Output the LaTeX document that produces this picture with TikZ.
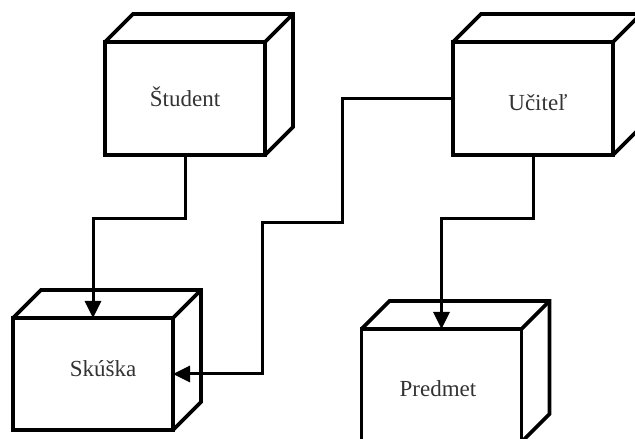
\documentclass[tikz,border=0pt]{standalone}
\usepackage{fontspec}
\setmainfont{Liberation Serif}
\usetikzlibrary{arrows.meta}
\begin{document}
\begin{tikzpicture}[x=1pt,y=1pt,
  face/.style={draw=black, line width=3.6pt, fill=white, minimum width=160pt, minimum height=113pt, inner sep=0pt, outer sep=0pt},
  edge3d/.style={draw=black, line width=3.6pt, line join=miter},
  conn/.style={draw=black, line width=3pt, line join=miter, -{Triangle[length=17pt,width=16pt]}},
  lbl/.style={anchor=base, inner sep=0pt, text=black!80, font=\fontsize{23}{27}\selectfont}
]
\clip (0,0) rectangle (635,439);
\fill[white] (0,0) rectangle (635,439);

% front faces of the four boxes
\node[face] (stud) at (185,340.5) {};
\node[face] (uc)   at (533,340.5) {};
\node[face, minimum height=112pt] (sk) at (93,65) {};
\node[face] (pr)   at (441.5,53.5) {};

% top and side faces (depth 28pt up-right)
\foreach \b in {stud,uc,sk,pr}{
  \draw[edge3d] (\b.north west) -- ++(28,28) -| ([xshift=28pt,yshift=28pt]\b.south east) -- (\b.south east);
  \draw[edge3d] (\b.north east) -- ++(28,28);
}

% labels
\node[lbl] (tstud) at (185,332) {Študent};
\node[lbl] (tuc)   at (538,328) {Učiteľ};
\node[lbl] (tsk)   at (103,62) {Skúška};
\node[lbl] (tpr)   at (438,42) {Predmet};

% connectors
\coordinate (b1) at (342,216);
\coordinate (b2) at (262,216);
\draw[conn] (stud.south) -- ++(0,-64) -| (sk.north);
\draw[conn] (uc.west) -| (b1) -- (b2) |- (sk.east);
\draw[conn] (uc.south) -- ++(0,-64) -| (pr.north);
\end{tikzpicture}
\end{document}
